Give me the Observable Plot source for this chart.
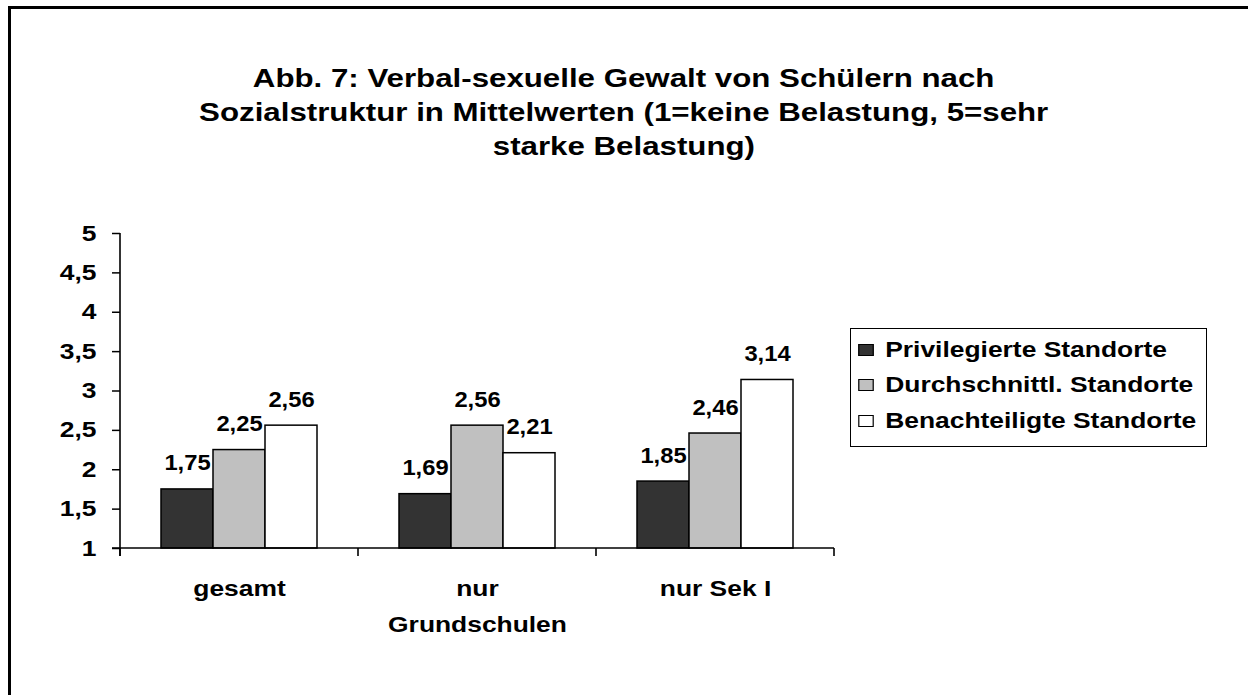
<!DOCTYPE html>
<html><head><meta charset="utf-8">
<script src="https://cdn.jsdelivr.net/npm/d3@7"></script>
<script src="https://cdn.jsdelivr.net/npm/@observablehq/plot@0.6"></script>
<style>
html,body{margin:0;padding:0;background:#fff;}
#wrap{position:relative;width:1248px;height:695px;overflow:hidden;font-family:"Liberation Sans",Arial,sans-serif;font-weight:bold;color:#000;}
#frame{position:absolute;left:8px;top:6px;width:1400px;height:900px;border-left:3px solid #000;border-top:3px solid #000;}
#title{position:absolute;left:0;top:61px;width:1248px;text-align:center;font-size:25px;line-height:34px;}
#title span{display:inline-block;transform:scaleX(1.25);white-space:nowrap;}
#chart{position:absolute;left:0;top:0;}
#legend{position:absolute;left:850px;top:328px;width:355px;height:117px;border:1px solid #000;background:#fff;}
#legend .inner{transform:scaleX(1.2);transform-origin:0 0;padding-left:6px;padding-top:3px;}
#legend .row{display:flex;align-items:center;height:35.5px;font-size:22px;white-space:nowrap;}
#legend .sw{width:10.5px;height:10px;border:1px solid #000;margin-right:10px;flex:none;}
</style>
</head><body>
<div id="wrap">
  <div id="frame"></div>
  <div id="title"></div>
  <div id="chart"></div>
  <div id="legend"><div class="inner"></div></div>
</div>
<script>
const titleLines = ["Abb. 7: Verbal-sexuelle Gewalt von Schülern nach", "Sozialstruktur in Mittelwerten (1=keine Belastung, 5=sehr", "starke Belastung)"];
const categories = ["gesamt", "nur Grundschulen", "nur Sek I"];
const categoryLabels = ["gesamt", "nur\nGrundschulen", "nur Sek I"];
const series = ["Privilegierte Standorte", "Durchschnittl. Standorte", "Benachteiligte Standorte"];
const privilegiert = [1.75, 1.69, 1.85];
const durchschnitt = [2.25, 2.56, 2.46];
const benachteiligt = [2.56, 2.21, 3.14];
const yTicks = [1, 1.5, 2, 2.5, 3, 3.5, 4, 4.5, 5];
const colors = ["#333333", "#c0c0c0", "#ffffff"];

const seriesValues = [privilegiert, durchschnitt, benachteiligt];
const data = categories.flatMap((c, i) => series.map((s, j) => ({cat: c, series: s, value: seriesValues[j][i]})));
const fmt = v => String(v).replace(".", ",");

document.getElementById("title").innerHTML = titleLines.map(l => `<span>${l}</span>`).join("<br>");
const inner = document.querySelector("#legend .inner");
series.forEach((s, j) => {
  const row = document.createElement("div");
  row.className = "row";
  row.innerHTML = `<span class="sw" style="background:${colors[j]}"></span><span>${s}</span>`;
  inner.appendChild(row);
});

const plot = Plot.plot({
  width: 1248, height: 695,
  marginLeft: 119, marginRight: 413, marginTop: 233, marginBottom: 147,
  style: {fontFamily: "Liberation Sans, Arial, sans-serif", fontWeight: "bold", fontSize: "22px", color: "#000", background: "transparent", overflow: "visible"},
  fx: {domain: categories, padding: 0, label: null},
  x: {domain: series, paddingInner: 0, paddingOuter: 0.76, axis: null},
  y: {domain: [1, 5], label: null},
  color: {domain: series, range: colors},
  marks: [
    Plot.axisY({ticks: yTicks, tickFormat: fmt, tickSize: 8, tickPadding: 16, fontSize: 22, label: null, stroke: "#000", strokeWidth: 1.5}),
    Plot.axisFx({anchor: "bottom", tickSize: 0, tickPadding: 23, fontSize: 22, tickFormat: c => categoryLabels[categories.indexOf(c)], lineHeight: 1.6, label: null}),
    Plot.barY(data, {fx: "cat", x: "series", y1: 1, y2: "value", fill: "series", stroke: "#000", strokeWidth: 1.5}),
    Plot.text(data, {fx: "cat", x: "series", y: "value", text: d => fmt(d.value), dy: -26, fontSize: 22, fill: "#000"})
  ]
});
document.getElementById("chart").appendChild(plot);

const svg = d3.select(plot);
const fx = plot.scale("fx"), y = plot.scale("y");
const bw = fx.bandwidth;
const xs = categories.map(c => fx.apply(c));
const xEnd = xs[xs.length - 1] + bw;
const y0 = y.apply(1), yTop = y.apply(5);
const g = svg.append("g").attr("stroke", "#000").attr("stroke-width", 1.6);
g.append("line").attr("x1", xs[0]).attr("x2", xs[0]).attr("y1", yTop).attr("y2", y0 + 8);
g.append("line").attr("x1", xs[0] - 8).attr("x2", xEnd).attr("y1", y0).attr("y2", y0);
[...xs, xEnd].forEach(x => g.append("line").attr("x1", x).attr("x2", x).attr("y1", y0).attr("y2", y0 + 8));

// horizontal glyph widening around each label's own anchor point
svg.selectAll("text").each(function() {
  const isValue = this.closest('g[aria-label="text"]') !== null;
  const S = isValue ? 1.08 : 1.2;
  const xa = parseFloat(this.getAttribute("x"));
  const tx = isFinite(xa) && !/em/.test(this.getAttribute("x") || "") ? xa : 0;
  const t = this.getAttribute("transform") || "";
  this.setAttribute("transform", `${t} translate(${tx},0) scale(${S},1) translate(${-tx},0)`);
});
</script>
</body></html>
